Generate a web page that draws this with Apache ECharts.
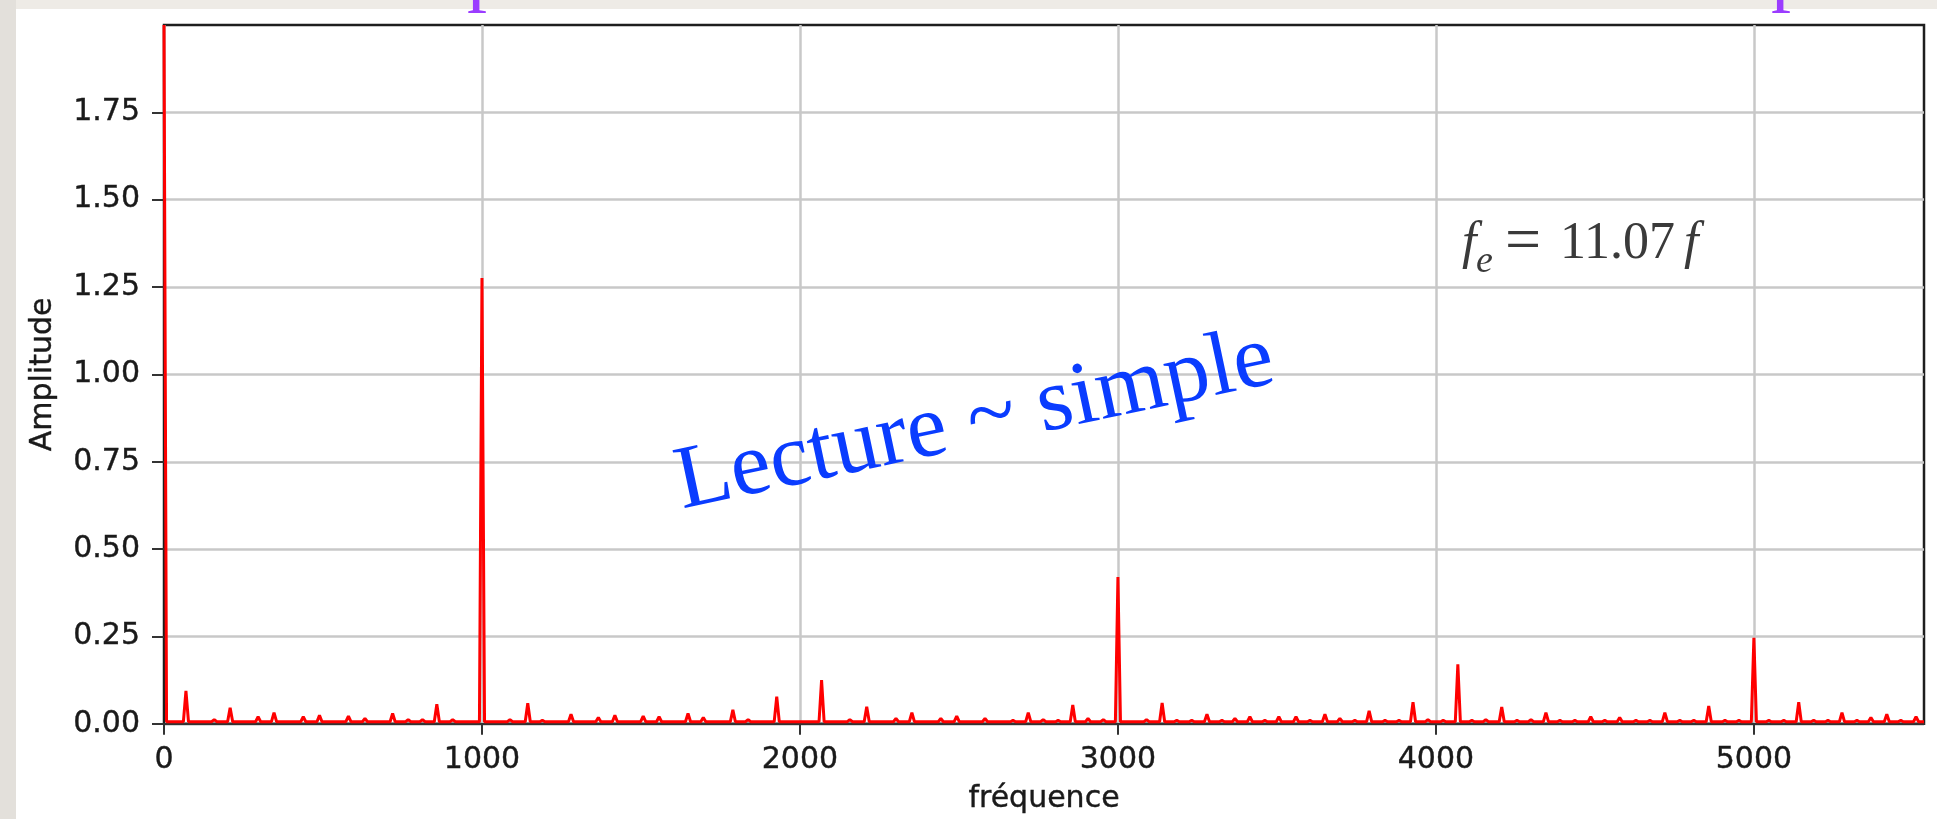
<!DOCTYPE html>
<html><head><meta charset="utf-8">
<script src="https://cdn.jsdelivr.net/npm/echarts@6/dist/echarts.min.js"></script>
<style>
html,body{margin:0;padding:0;width:1937px;height:819px;overflow:hidden;background:#eeebe6;}
#leftband{position:absolute;left:0;top:0;width:16px;height:819px;background:#e3e0db;}
#card{position:absolute;left:16px;top:9px;width:1921px;height:810px;background:#ffffff;}
#chart{position:absolute;left:0;top:0;width:1937px;height:819px;}
</style></head><body>
<div id="leftband"></div><div id="card"></div><div id="chart"></div>
<script>
// ---- data ----
const xTickValues = [0, 1000, 2000, 3000, 4000, 5000];
const yTickValues = [0, 0.25, 0.5, 0.75, 1.0, 1.25, 1.5, 1.75];
const xMax = 5535;   // Nyquist = fe/2
const yMax = 2.0;
const baselineAmp = 0.006;

// spectral lines: frequency (Hz) and amplitude
const peakFreq = [
  0, 69, 158, 208, 296, 346, 438, 489, 580, 632,
  719, 768, 813, 858, 908, 1000, 1088, 1144, 1190, 1280,
  1366, 1418, 1507, 1557, 1648, 1696, 1789, 1837, 1927, 2068,
  2157, 2210, 2302, 2352, 2443, 2493, 2582, 2670, 2718, 2765,
  2812, 2858, 2906, 2954, 3000, 3090, 3139, 3185, 3232, 3280,
  3327, 3368, 3415, 3462, 3506, 3560, 3604, 3651, 3698, 3745,
  3790, 3840, 3884, 3928, 3975, 4023, 4069, 4113, 4157, 4207,
  4255, 4299, 4346, 4390, 4437, 4487, 4531, 4578, 4629, 4673,
  4720, 4767, 4811, 4858, 4909, 4953, 5000, 5047, 5094, 5141,
  5188, 5233, 5277, 5324, 5368, 5418, 5462, 5510
];
const peakAmp = [
  2.0, 0.094, 0.012, 0.046, 0.020, 0.032, 0.020, 0.024, 0.022, 0.015,
  0.030, 0.012, 0.012, 0.056, 0.012, 1.276, 0.012, 0.059, 0.010, 0.027,
  0.018, 0.024, 0.022, 0.020, 0.030, 0.018, 0.040, 0.012, 0.078, 0.125,
  0.012, 0.049, 0.015, 0.032, 0.015, 0.022, 0.015, 0.010, 0.032, 0.012,
  0.010, 0.054, 0.015, 0.012, 0.420, 0.012, 0.060, 0.010, 0.010, 0.027,
  0.010, 0.015, 0.020, 0.010, 0.020, 0.020, 0.010, 0.027, 0.015, 0.010,
  0.037, 0.010, 0.010, 0.062, 0.012, 0.010, 0.170, 0.010, 0.012, 0.048,
  0.010, 0.012, 0.032, 0.010, 0.010, 0.020, 0.010, 0.018, 0.010, 0.010,
  0.032, 0.010, 0.010, 0.051, 0.010, 0.010, 0.246, 0.010, 0.010, 0.062,
  0.010, 0.010, 0.032, 0.010, 0.018, 0.027, 0.010, 0.020
];

// ---- build the line vertices (each spectral line rises from the baseline) ----
const halfWidthHz = 8;
const lineData = [];
for (let i = 0; i < peakFreq.length; i++) {
  const f = peakFreq[i], a = peakAmp[i];
  if (f > 0) lineData.push([f - halfWidthHz, baselineAmp]);
  lineData.push([f, a]);
  lineData.push([f + halfWidthHz, baselineAmp]);
}
lineData.push([xMax, baselineAmp]);

const chart = echarts.init(document.getElementById('chart'), null, {renderer: 'canvas'});
const tickFont = 'DejaVu Sans';
const ink = '#1a1a1a';
const labelStyle = {fontFamily: tickFont, fontSize: 30, color: ink,
                    textBorderColor: ink, textBorderWidth: 0.4};

chart.setOption({
  backgroundColor: 'transparent',
  animation: false,
  grid: {
    left: 164, top: 25, right: 13, bottom: 94.5,
    show: true, borderColor: '#1e1e1e', borderWidth: 2.5, backgroundColor: 'transparent'
  },
  xAxis: {
    type: 'value', min: 0, max: xMax, interval: 1000,
    name: 'fréquence', nameLocation: 'middle', nameGap: 60,
    nameTextStyle: labelStyle,
    axisLine: {show: true, onZero: false, lineStyle: {color: '#333', width: 2}},
    axisTick: {show: true, inside: false, length: 11, customValues: xTickValues,
               lineStyle: {color: '#333', width: 2}},
    axisLabel: Object.assign({show: true, customValues: xTickValues, margin: 21,
                formatter: v => String(v)}, labelStyle),
    splitLine: {show: true, lineStyle: {color: '#c8c8c8', width: 2.5}}
  },
  yAxis: {
    type: 'value', min: 0, max: yMax, interval: 0.25,
    name: 'Amplitude', nameLocation: 'middle', nameGap: 106, nameRotate: 90,
    nameTextStyle: labelStyle,
    axisLine: {show: true, onZero: false, lineStyle: {color: '#1e1e1e', width: 2}},
    axisTick: {show: true, inside: false, length: 12, customValues: yTickValues,
               lineStyle: {color: '#333', width: 2}},
    axisLabel: Object.assign({show: true, customValues: yTickValues, margin: 24,
                formatter: v => (v > 1.9 ? '' : Number(v).toFixed(2))}, labelStyle),
    splitLine: {show: true, lineStyle: {color: '#c8c8c8', width: 2.5}}
  },
  series: [{
    type: 'line', data: lineData, showSymbol: false, symbol: 'none',
    lineStyle: {color: '#ff0000', width: 3}, clip: true, silent: true, z: 2
  }],
  graphic: [
    {type: 'text', x: 975, y: 422, rotation: 12 * Math.PI / 180, z: 100,
     style: {text: 'Lecture ~ simple', font: '90px "Liberation Serif"', fill: '#0a3cff',
             align: 'center', verticalAlign: 'middle', textAlign: 'center', textVerticalAlign: 'middle'}},
    {type: 'text', x: 1462, y: 244.5, z: 100,
     style: {text: 'f', font: 'italic 52px "Liberation Serif"', fill: '#3a3a3a',
             align: 'left', verticalAlign: 'middle', textAlign: 'left', textVerticalAlign: 'middle'}},
    {type: 'text', x: 1476, y: 262, z: 100,
     style: {text: 'e', font: 'italic 38px "Liberation Serif"', fill: '#3a3a3a',
             align: 'left', verticalAlign: 'middle', textAlign: 'left', textVerticalAlign: 'middle'}},
    {type: 'text', x: 1505, y: 243.5, z: 100,
     style: {text: '=', font: '64px "Liberation Serif"', fill: '#3a3a3a',
             align: 'left', verticalAlign: 'middle', textAlign: 'left', textVerticalAlign: 'middle'}},
    {type: 'text', x: 1560, y: 244.5, z: 100,
     style: {text: '11.07', font: '52px "Liberation Serif"', fill: '#3a3a3a',
             align: 'left', verticalAlign: 'middle', textAlign: 'left', textVerticalAlign: 'middle'}},
    {type: 'text', x: 1684, y: 244.5, z: 100,
     style: {text: 'f', font: 'italic 52px "Liberation Serif"', fill: '#3a3a3a',
             align: 'left', verticalAlign: 'middle', textAlign: 'left', textVerticalAlign: 'middle'}},
    {type: 'text', x: 467, y: -25, z: 100,
     style: {text: 'p', font: '80px "Liberation Serif"', fill: '#9b3cff',
             align: 'left', verticalAlign: 'middle', textAlign: 'left', textVerticalAlign: 'middle'}},
    {type: 'text', x: 1771, y: -25, z: 100,
     style: {text: 'p', font: '80px "Liberation Serif"', fill: '#9b3cff',
             align: 'left', verticalAlign: 'middle', textAlign: 'left', textVerticalAlign: 'middle'}}
  ]
});
</script>
</body></html>
